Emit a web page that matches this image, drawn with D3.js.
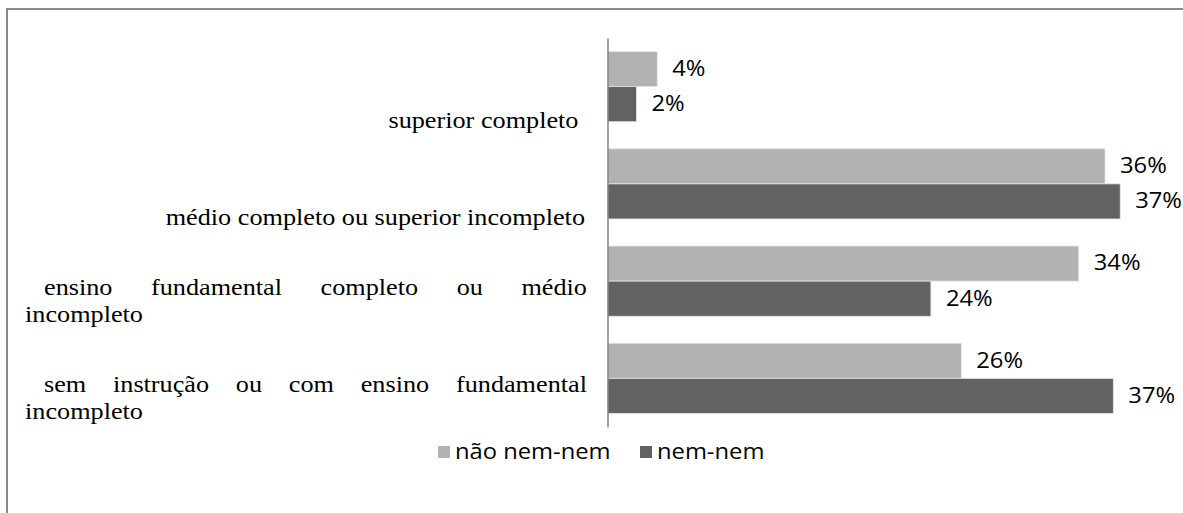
<!DOCTYPE html>
<html>
<head>
<meta charset="utf-8">
<script src="https://cdn.jsdelivr.net/npm/d3@7"></script>
<style>
  html, body { margin: 0; padding: 0; background: #fff; }
  svg { display: block; }
  text { white-space: pre; }
</style>
</head>
<body>
<svg id="chart" width="1183" height="513"></svg>
<script>
// ---- data ----
const categories = [
  "superior completo",
  "médio completo ou superior incompleto",
  "ensino fundamental completo ou médio incompleto",
  "sem instrução ou com ensino fundamental incompleto"
];
// category labels as they wrap in the original (first lines justified)
const categoryLines = [
  ["superior completo "],
  ["médio completo ou superior incompleto"],
  ["ensino fundamental completo ou médio", "incompleto"],
  ["sem instrução ou com ensino fundamental", "incompleto"]
];
const seriesNames = ["não nem-nem", "nem-nem"];
const naoNemNem = [3.6, 36.0, 34.1, 25.6];
const nemNem = [2.1, 37.1, 23.4, 36.6];
const naoNemNemLabels = ["4%", "36%", "34%", "26%"];
const nemNemLabels = ["2%", "37%", "24%", "37%"];
const colors = ["#b2b2b2", "#626262"];

// ---- layout ----
const svg = d3.select("#chart");
const axisX = 607.5;
const plotTop = 38, plotBottom = 427;

// frame (right/bottom edges fall outside the picture)
svg.append("rect")
  .attr("x", 7).attr("y", 9)
  .attr("width", 1200).attr("height", 520)
  .attr("fill", "none").attr("stroke", "#8a8a8a").attr("stroke-width", 2);

const y = d3.scaleBand()
  .domain(categories)
  .range([plotTop, plotBottom])
  .paddingInner(0.278)
  .paddingOuter(0.139);

const ySub = d3.scaleBand()
  .domain(seriesNames)
  .range([0, y.bandwidth()]);

const x = d3.scaleLinear()
  .domain([0, 40])
  .range([axisX, axisX + 40 * 13.82]);

const seriesData = [naoNemNem, nemNem];
const seriesLabels = [naoNemNemLabels, nemNemLabels];

const rows = [];
categories.forEach((c, i) => {
  seriesNames.forEach((s, j) => {
    rows.push({ cat: c, series: s, j, value: seriesData[j][i], label: seriesLabels[j][i] });
  });
});

// bars
svg.append("g").selectAll("rect")
  .data(rows)
  .join("rect")
  .attr("x", x(0))
  .attr("y", d => y(d.cat) + ySub(d.series))
  .attr("width", d => x(d.value) - x(0))
  .attr("height", ySub.bandwidth())
  .attr("fill", d => colors[d.j])
  .attr("stroke", "#e6e6e6")
  .attr("stroke-width", 0.8);

// value labels
const sxVal = 1.08;
const valFont = 22;
svg.append("g").selectAll("text")
  .data(rows)
  .join("text")
  .attr("transform", d => `translate(${x(d.value) + 15},${y(d.cat) + ySub(d.series) + ySub.bandwidth() / 2 + 1}) scale(${sxVal},1)`)
  .attr("dominant-baseline", "middle")
  .attr("font-family", "'Open Sans', sans-serif")
  .attr("font-size", valFont)
  .attr("fill", "#000")
  .text(d => d.label);

// vertical category axis line
const yAxis = d3.axisLeft(y).tickSize(0).tickFormat("");
const gAxis = svg.append("g").attr("transform", `translate(${axisX},0)`).call(yAxis);
gAxis.select(".domain").attr("stroke", "#868686").attr("stroke-width", 1.5);

// category labels (Times-like, slightly widened)
const catFont = 23;
const sxCat = 1.14;
const labelRight = 585;
const blockLeft = 25;
const firstIndent = 19;
const lineGap = 27;
const gLab = svg.append("g")
  .attr("font-family", "'Liberation Serif', 'Times New Roman', serif")
  .attr("font-size", catFont)
  .attr("fill", "#000");

function measure(str) {
  const t = gLab.append("text").text(str);
  const w = t.node().getComputedTextLength() * sxCat;
  t.remove();
  return w;
}

categories.forEach((c, i) => {
  const lines = categoryLines[i];
  const baseY = y(c) + y.bandwidth() + 0.5; // centre of the last line
  lines.forEach((ln, k) => {
    const cy = baseY - (lines.length - 1 - k) * lineGap;
    if (lines.length === 1) {
      gLab.append("text")
        .attr("transform", `translate(${labelRight},${cy}) scale(${sxCat},1)`)
        .attr("text-anchor", "end")
        .attr("dominant-baseline", "middle")
        .text(ln);
    } else if (k < lines.length - 1) {
      // justified line
      const words = ln.split(" ");
      const widths = words.map(measure);
      const left = blockLeft + firstIndent;
      const total = d3.sum(widths);
      const gap = (labelRight + 2 - left - total) / (words.length - 1);
      let cx = left;
      words.forEach((w, wi) => {
        gLab.append("text")
          .attr("transform", `translate(${cx},${cy}) scale(${sxCat},1)`)
          .attr("dominant-baseline", "middle")
          .text(w);
        cx += widths[wi] + gap;
      });
    } else {
      gLab.append("text")
        .attr("transform", `translate(${blockLeft},${cy}) scale(${sxCat},1)`)
        .attr("dominant-baseline", "middle")
        .text(ln);
    }
  });
});

// legend
const legend = svg.append("g").attr("font-family", "'Open Sans', sans-serif").attr("font-size", valFont);
const legendY = 452;
const legendItems = [{ name: seriesNames[0], x: 438 }, { name: seriesNames[1], x: 640 }];
legendItems.forEach((it, i) => {
  legend.append("rect")
    .attr("x", it.x).attr("y", legendY - 6)
    .attr("width", 12).attr("height", 12)
    .attr("fill", colors[i]);
  legend.append("text")
    .attr("transform", `translate(${it.x + 17},${legendY + 1}) scale(${sxVal},1)`)
    .attr("dominant-baseline", "middle")
    .text(it.name);
});
</script>
</body>
</html>
